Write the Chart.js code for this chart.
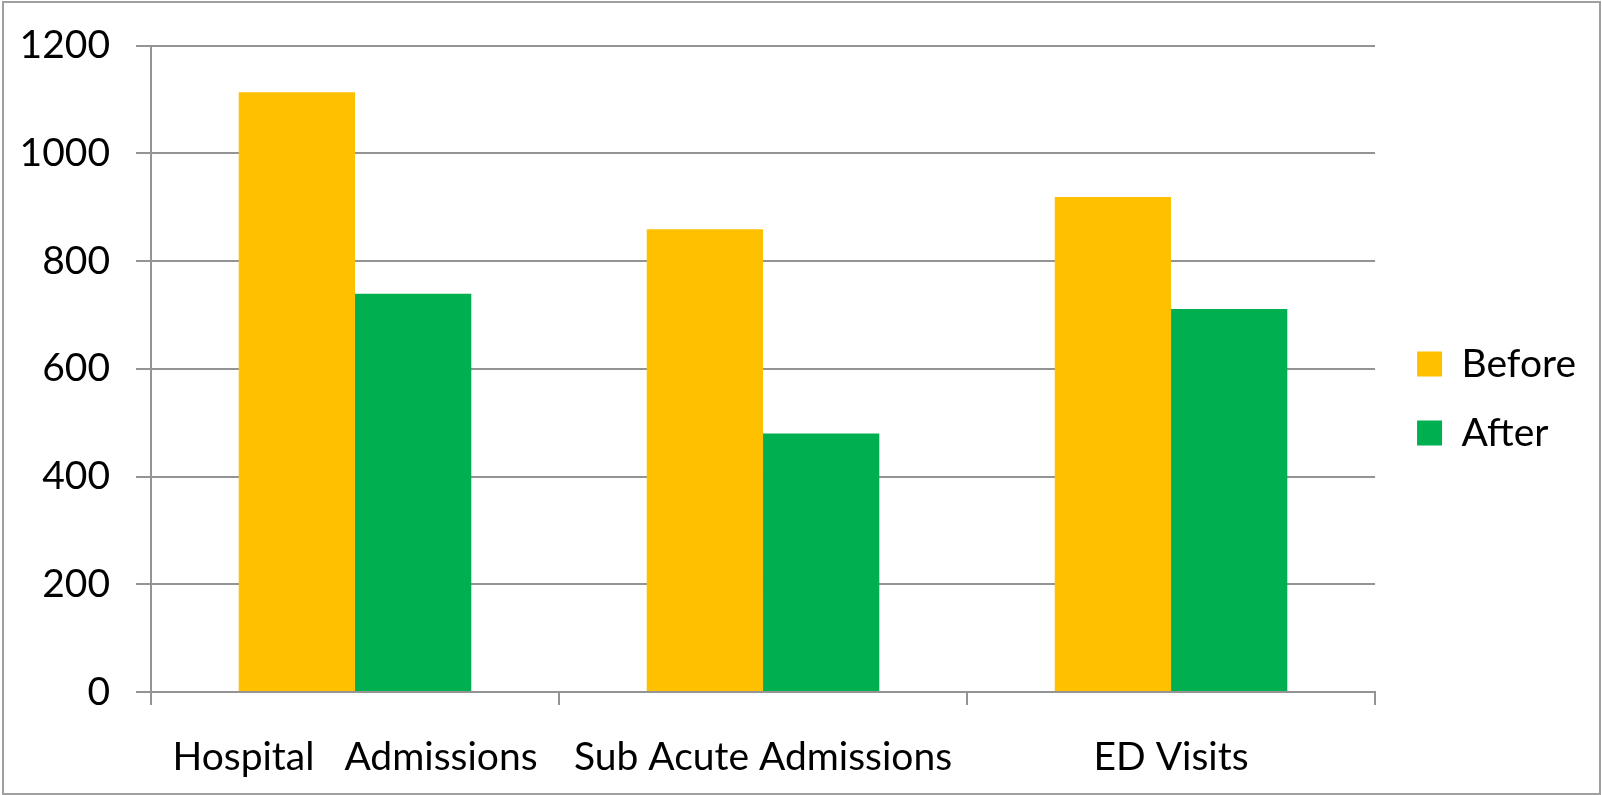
<!DOCTYPE html>
<html>
<head>
<meta charset="utf-8">
<script src="https://cdn.jsdelivr.net/npm/chart.js@4/dist/chart.umd.min.js"></script>
<style>
  html, body { margin: 0; padding: 0; background: #fff; }
  #wrap { position: absolute; left: 0; top: 0; width: 1602px; height: 795px; }
  #frame { position: absolute; left: 2px; top: 1px; width: 1595px; height: 790px;
           border: 2px solid #a0a0a0; pointer-events: none; }
</style>
</head>
<body>
<div id="wrap"><canvas id="chart"></canvas></div>
<div id="frame"></div>
<script>
var categories = ["Hospital   Admissions", "Sub Acute Admissions", "ED Visits"];
var seriesNames = ["Before", "After"];
var beforeValues = [1113, 859, 919];
var afterValues = [739, 480, 711];
var yTicks = [0, 200, 400, 600, 800, 1000, 1200];

var gridColor = "#949494";
Chart.defaults.font.family = "Lato, 'Open Sans', sans-serif";
Chart.defaults.font.size = 39;
Chart.defaults.color = "#000";

// nudge the legend block away from the plot and up a bit
const legendShift = {
    id: 'legendShift',
    afterLayout(chart) {
        const lg = chart.legend;
        const dx = 12, dy = -21;
        lg.left += dx; lg.right += dx;
        lg.top += dy; lg.bottom += dy;
    }
};

const ctx = document.getElementById("chart");
new Chart(ctx, {
    type: 'bar',
    data: {
        labels: categories,
        datasets: [{
            label: seriesNames[0],
            data: beforeValues,
            backgroundColor: "#FFC000",
            borderWidth: 0
        }, {
            label: seriesNames[1],
            data: afterValues,
            backgroundColor: "#00B050",
            borderWidth: 0
        }]
    },
    plugins: [legendShift],
    options: {
        responsive: true,
        maintainAspectRatio: false,
        animation: false,
        categoryPercentage: 0.57,
        barPercentage: 1.0,
        layout: {
            padding: {top: 44, right: 28, bottom: 0, left: 0}
        },
        plugins: {
            tooltip: {enabled: false},
            legend: {
                position: 'right',
                labels: {
                    boxWidth: 25,
                    boxHeight: 25,
                    padding: 30
                }
            }
        },
        scales: {
            x: {
                grid: {
                    display: true,
                    drawOnChartArea: false,
                    offset: true,
                    color: gridColor,
                    lineWidth: 2,
                    tickLength: 13
                },
                border: {display: true, color: gridColor, width: 2},
                ticks: {
                    autoSkip: false,
                    maxRotation: 0,
                    minRotation: 0,
                    padding: 29
                },
                afterFit: (scale) => { scale.height = 103; }
            },
            y: {
                min: 0,
                max: 1200,
                afterBuildTicks: (scale) => {
                    scale.ticks = yTicks.map((v) => ({value: v}));
                },
                grid: {
                    color: gridColor,
                    lineWidth: 2,
                    tickLength: 15
                },
                border: {display: true, color: gridColor, width: 2},
                ticks: {
                    padding: 26,
                    font: {lineHeight: 1.0},
                    callback: (value) => String(value)
                },
                afterFit: (scale) => { scale.width = 151; }
            }
        }
    }
});
</script>
</body>
</html>
